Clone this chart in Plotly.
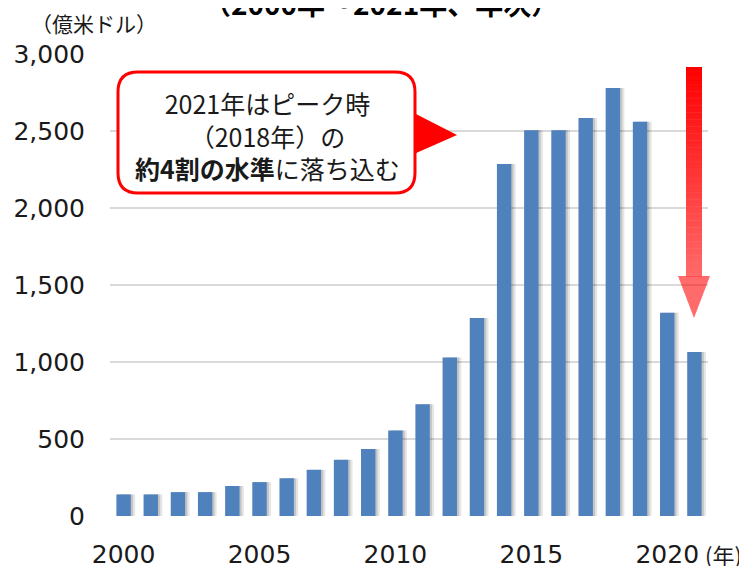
import plotly.graph_objects as go

# ---------------- data ----------------
years = list(range(2000, 2022))
values = [140, 140, 155, 155, 195, 220, 245, 300, 365, 435, 555, 725,
          1030, 1285, 2285, 2505, 2505, 2585, 2780, 2560, 1320, 1065]
y_ticks = [0, 500, 1000, 1500, 2000, 2500, 3000]
y_tick_labels = ["0", "500", "1,000", "1,500", "2,000", "2,500", "3,000"]
x_ticks = [2000, 2005, 2010, 2015, 2020]
x_tick_labels = ["2000", "2005", "2010", "2015", "2020"]

title_text = "（2000年～2021年、年次）"
unit_text = "（億米ドル）"
year_unit_text = "(年)"
callout_lines = ["2021年はピーク時", "（2018年）の", "<b>約4割の水準</b>に落ち込む"]

# ---------------- layout helpers ----------------
W, H = 747, 566
OFF = 8  # page body margin
L, T = 110 - OFF, 54 - OFF
R = W - (708 - OFF)
B = H - (516 - OFF)
PW = W - L - R
PH = H - T - B


def px(x):
    return (x - OFF - L) / PW


def py(y):
    return (H - B - (y - OFF)) / PH


def P(x, y):
    return f"{px(x):.5f},{py(y):.5f}"


BAR_W = 0.53
BAR_COLOR = "#4F81BD"
JP = "Noto Sans CJK JP"
NUM = "DejaVu Sans, Noto Sans CJK JP"

fig = go.Figure()

# soft shadow to the right of bars
fig.add_trace(go.Bar(
    x=years, y=values, width=BAR_W, offset=-BAR_W / 2 + 0.16,
    marker=dict(color="rgba(0,0,0,0.10)", line=dict(width=0)),
    hoverinfo="skip"))
fig.add_trace(go.Bar(
    x=years, y=values, width=BAR_W, offset=-BAR_W / 2 + 0.08,
    marker=dict(color="rgba(0,0,0,0.14)", line=dict(width=0)),
    hoverinfo="skip"))
# main bars
fig.add_trace(go.Bar(
    x=years, y=values, width=BAR_W, offset=-BAR_W / 2,
    marker=dict(color=BAR_COLOR, line=dict(width=0))))

shapes = []

# callout box
box = (f"M {P(138,72)} L {P(395,72)} Q {P(415,72)} {P(415,92)} "
       f"L {P(415,173)} Q {P(415,193)} {P(395,193)} "
       f"L {P(138,193)} Q {P(118,193)} {P(118,173)} "
       f"L {P(118,92)} Q {P(118,72)} {P(138,72)} Z")
shapes.append(dict(type="path", xref="paper", yref="paper", path=box,
                   fillcolor="white", line=dict(color="#FF0000", width=3),
                   layer="above"))
shapes.append(dict(type="path", xref="paper", yref="paper",
                   path=f"M {P(414,113)} L {P(457,135)} L {P(414,154)} Z",
                   fillcolor="#FF0000", line=dict(width=0), layer="above"))

# gradient arrow (shaft built from thin opaque slices)
top, bot = 67, 276
n = 60
for i in range(n):
    y0 = top + (bot - top) * i / n
    y1 = top + (bot - top) * (i + 1) / n + 0.5
    t = i / (n - 1)
    g = int(round(0 + 105 * t))
    shapes.append(dict(type="rect", xref="paper", yref="paper",
                       x0=px(686), x1=px(702), y0=py(y1), y1=py(y0),
                       fillcolor=f"rgb(255,{g},{g})", line=dict(width=0),
                       layer="above"))
shapes.append(dict(type="path", xref="paper", yref="paper",
                   path=f"M {P(678,276)} L {P(710,276)} L {P(694,318)} Z",
                   fillcolor="rgba(255,0,0,0.58)", line=dict(width=0),
                   layer="above"))

annotations = []
annotations.append(dict(text=f"<b>{title_text}</b>", xref="paper", yref="paper",
                        x=px(381), y=py(3), xanchor="center", yanchor="middle",
                        showarrow=False, font=dict(family=JP, size=28, color="#000")))
annotations.append(dict(text=unit_text, xref="paper", yref="paper",
                        x=px(94), y=py(23), xanchor="center", yanchor="middle",
                        showarrow=False, font=dict(family=JP, size=21, color="#1a1a1a")))
annotations.append(dict(text=year_unit_text, xref="paper", yref="paper",
                        x=px(703), y=py(554), xanchor="left", yanchor="middle",
                        showarrow=False, font=dict(family=JP, size=22, color="#1a1a1a")))
annotations.append(dict(text="<br>".join(callout_lines), xref="paper", yref="paper",
                        x=px(267), y=py(135), xanchor="center", yanchor="middle",
                        align="center", showarrow=False,
                        font=dict(family=JP, size=25, color="#1a1a1a")))

fig.update_layout(
    width=W, height=H,
    margin=dict(l=L, r=R, t=T, b=B, pad=0, autoexpand=False),
    paper_bgcolor="white", plot_bgcolor="white",
    barmode="overlay", showlegend=False,
    shapes=shapes, annotations=annotations,
    xaxis=dict(range=[1999.5, 2021.5], tickmode="array", tickvals=x_ticks,
               ticktext=x_tick_labels, showgrid=False, zeroline=False,
               showline=False, ticks="", ticklabelstandoff=21, automargin=False,
               tickfont=dict(family=NUM, size=25, color="#1a1a1a")),
    yaxis=dict(range=[0, 3000], tickmode="array", tickvals=y_ticks,
               ticktext=y_tick_labels, showgrid=True, gridcolor="#D9D9D9",
               gridwidth=2, zeroline=False, showline=False, ticks="",
               ticklabelstandoff=24, automargin=False,
               tickfont=dict(family=NUM, size=25, color="#1a1a1a")),
)

fig.write_html("out.html")
